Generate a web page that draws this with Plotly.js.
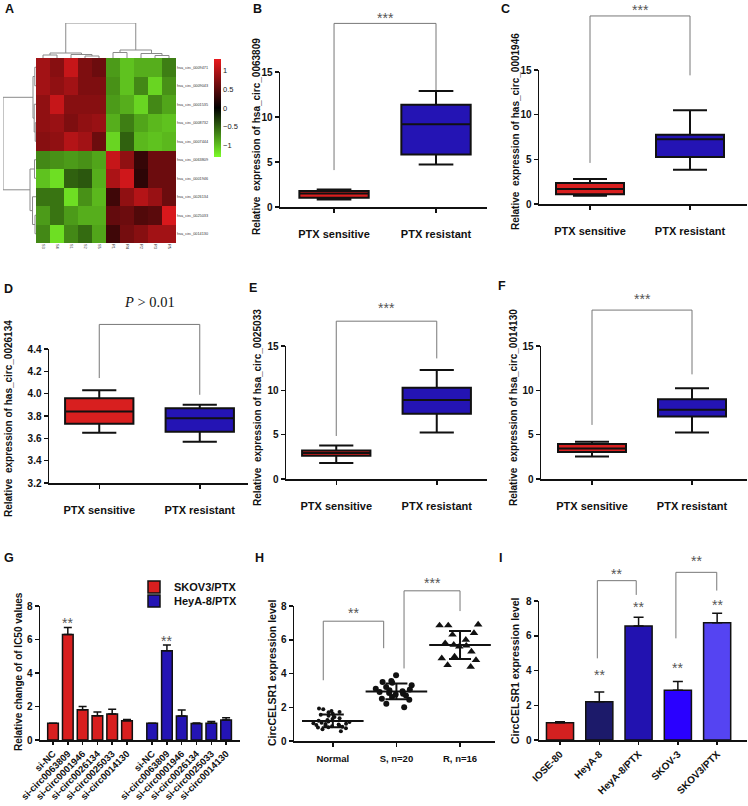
<!DOCTYPE html>
<html><head><meta charset="utf-8">
<script src="https://cdn.plot.ly/plotly-3.0.1.min.js"></script>
<style>html,body{margin:0;padding:0;background:#fff}#plot{width:748px;height:806px}</style>
</head><body><div id="plot"></div>
<script>
// ================= DATA =================
// Panel A heatmap
const heatCols = ['S3','S4','S1','S2','S5','R1','R4','R2','R3','R5'];
const heatRows = ['hsa_circ_0009471','hsa_circ_0009043','hsa_circ_0001535','hsa_circ_0008732','hsa_circ_0007444',
                  'hsa_circ_0063809','hsa_circ_0001946','hsa_circ_0026134','hsa_circ_0025033','hsa_circ_0014130'];
const heatZ = [
  [0.90, 0.75, 1.10, 0.70, 0.60, -0.80, -1.00, -0.90, -0.90, -0.65],
  [0.90, 0.80, 0.90, 0.70, 0.70, -0.75, -1.00, -0.70, -1.10, -0.75],
  [0.80, 1.10, 0.75, 0.75, 0.75, -0.80, -0.90, -1.10, -0.70, -0.85],
  [0.80, 0.85, 0.70, 0.80, 0.85, -0.90, -0.65, -0.85, -0.95, -1.00],
  [0.75, 0.80, 1.00, 0.90, 0.60, -1.10, -0.50, -0.95, -1.00, -0.95],
  [-0.70, -0.75, -0.80, -0.75, -0.85, 1.10, 0.80, 0.30, 0.60, 0.60],
  [-1.00, -1.15, -0.50, -0.45, -0.90, 0.95, 1.15, 0.25, 0.60, 0.60],
  [-0.60, -0.60, -1.15, -0.75, -0.95, 0.35, 0.80, 1.00, 0.85, 0.60],
  [-0.80, -0.60, -0.80, -0.90, -0.90, 0.55, 0.60, 0.45, 0.50, 1.20],
  [-0.70, -1.15, -0.70, -0.55, -0.85, 0.35, 0.65, 0.75, 0.90, 0.90]
];
// linkage: [childA, childB, height]; leaves 0..9, merged nodes numbered 10..
const colLinkage = [[0,1,3],[3,4,2],[2,11,3.5],[10,12,5],[8,9,2.5],[7,14,4.5],[5,6,5.5],[16,15,8],[13,17,35]];
const rowLinkage = [[0,1,1.2],[3,4,0.8],[2,11,1.8],[10,12,3],[5,6,1.5],[8,9,1],[7,15,3.5],[14,16,6],[13,17,33]];

// Panels B-F box plots: [lower whisker, q1, median, q3, upper whisker]
const boxGroups = ['PTX sensitive','PTX resistant'];
const B_sensitive = [0.82, 1.04, 1.49, 1.79, 1.94];
const B_resistant = [4.73, 5.84, 9.19, 11.35, 12.9];
const C_sensitive = [0.93, 1.10, 1.68, 2.35, 2.80];
const C_resistant = [3.82, 5.25, 7.25, 7.75, 10.5];
const D_sensitive = [3.65, 3.73, 3.84, 3.96, 4.03];
const D_resistant = [3.57, 3.66, 3.78, 3.87, 3.90];
const E_sensitive = [1.80, 2.62, 2.92, 3.22, 3.79];
const E_resistant = [5.25, 7.35, 8.92, 10.3, 12.3];
const F_sensitive = [2.55, 3.04, 3.45, 3.94, 4.20];
const F_resistant = [5.25, 7.05, 7.80, 9.00, 10.24];

// Panel G
const G_labels = ['si-NC','si-circ0063809','si-circ0001946','si-circ0026134','si-circ0025033','si-circ0014130'];
const G_series = ['SKOV3/PTX','HeyA-8/PTX'];
const G_skov = [1.0, 6.3, 1.8, 1.45, 1.55, 1.15];
const G_skov_err = [0, 0.42, 0.2, 0.22, 0.28, 0.08];
const G_heya = [1.0, 5.33, 1.43, 0.98, 1.0, 1.19];
const G_heya_err = [0, 0.34, 0.36, 0.04, 0.11, 0.14];

// Panel H
const H_groups = ['Normal','S, n=20','R, n=16'];
const H_normal = [1.92,1.88,1.78,1.72,1.70,1.62,1.55,1.50,1.42,1.35,1.30,1.25,1.20,1.15,1.12,1.08,1.05,1.02,1.00,0.98,0.95,0.92,0.90,0.88,0.85,0.82,0.80,0.75,0.70,0.58];
const H_S = [3.9,3.55,3.5,3.45,3.3,3.2,3.1,3.05,3.0,2.95,2.9,2.85,2.8,2.75,2.7,2.6,2.5,2.45,2.2,2.0];
const H_R = [6.9,6.85,6.85,6.4,6.3,6.0,5.8,5.7,5.65,5.6,5.3,5.0,4.9,4.8,4.5,4.4];

// Panel I
const I_labels = ['IOSE-80','HeyA-8','HeyA-8/PTX','SKOV-3','SKOV3/PTX'];
const I_values = [1.0, 2.2, 6.56, 2.87, 6.75];
const I_err = [0.05, 0.56, 0.5, 0.5, 0.54];

// ================= STYLE / LAYOUT =================
const W = 748, H = 806;
const FONT = 'Liberation Sans, Arial, sans-serif';
const RED = '#d81f1f', BLUE = '#2414b4';
const I_colors = ['#d42020','#1c1a6a','#2212b0','#2a00ff','#5544f2'];
const P = {
  heat:{l:36,t:58,r:176,b:243},
  dTop:{l:36,t:23,r:176,b:58},
  dLeft:{l:3,t:58,r:36,b:243},
  B:{l:280,t:72,r:487,b:207,xr:[-0.53,1.5],yr:[0,15]},
  C:{l:539,t:70,r:747,b:204,xr:[-0.51,1.57],yr:[0,15]},
  D:{l:49,t:349,r:248,b:483,xr:[-0.5,1.48],yr:[3.2,4.4]},
  E:{l:286,t:346,r:487,b:479,xr:[-0.5,1.5],yr:[0,15]},
  F:{l:541,t:346,r:747,b:479,xr:[-0.51,1.55],yr:[0,15]},
  G:{l:40,t:606,r:240,b:740,xr:[-0.88,12.64],yr:[0,8]},
  H:{l:294,t:606,r:495,b:741,xr:[-0.61,2.55],yr:[0,8]},
  I:{l:539,t:601,r:747,b:740,xr:[-0.535,4.76],yr:[0,8]}
};
const dx = p => [p.l/W, p.r/W];
const dy = p => [1-p.b/H, 1-p.t/H];
function toPaper(p, x, y){
  return [(p.l + (x-p.xr[0])/(p.xr[1]-p.xr[0])*(p.r-p.l))/W,
          1 - (p.b - (y-p.yr[0])/(p.yr[1]-p.yr[0])*(p.b-p.t))/H];
}

const traces = [], shapes = [], annotations = [];
const legendStyle = (yc) => ({x:134/W, y:1-yc/H, xanchor:'left', yanchor:'middle', bgcolor:'rgba(0,0,0,0)',
  borderwidth:0, font:{size:11, weight:'bold', color:'#111', family:FONT}, tracegroupgap:0});
const layout = {
  width:W, height:H, margin:{l:0,r:0,t:0,b:0}, paper_bgcolor:'#fff', plot_bgcolor:'rgba(0,0,0,0)',
  font:{family:FONT, color:'#111'}, hovermode:false, showlegend:true,
  legend:legendStyle(587), legend2:legendStyle(601),
  shapes, annotations
};
const axBase = () => ({showline:true, linecolor:'#111', linewidth:1.5, ticks:'outside', ticklen:4, tickwidth:1.5,
  tickcolor:'#111', showgrid:false, zeroline:false, fixedrange:true, tickfont:{size:10, weight:'bold', color:'#111', family:FONT}});
function setAxes(n, p, xo, yo){
  const s = n===1 ? '' : String(n);
  layout['xaxis'+s] = Object.assign({domain:dx(p), anchor:'y'+s, fixedrange:true}, xo);
  layout['yaxis'+s] = Object.assign({domain:dy(p), anchor:'x'+s, fixedrange:true}, yo);
  return ['x'+s, 'y'+s];
}
function letter(txt, x, y){
  annotations.push({text:txt, x:x/W, y:1-y/H, xref:'paper', yref:'paper', xanchor:'left', yanchor:'middle',
    showarrow:false, font:{size:12.5, weight:'bold', color:'#111'}});
}
function yTitle(txt, x, y, size){
  annotations.push({text:txt, x:x/W, y:1-y/H, xref:'paper', yref:'paper', xanchor:'center', yanchor:'middle',
    textangle:-90, showarrow:false, font:{size:size||10, weight:'bold', color:'#111'}});
}
function bracket(p, xL, yL, xR, yR, yTop){
  const a = toPaper(p,xL,yL), b = toPaper(p,xL,yTop), c = toPaper(p,xR,yTop), d = toPaper(p,xR,yR);
  shapes.push({type:'path', xref:'paper', yref:'paper',
    path:`M${a[0]},${a[1]} L${b[0]},${b[1]} L${c[0]},${c[1]} L${d[0]},${d[1]}`,
    line:{color:'#777', width:1}});
}
function stars(p, x, y, txt){
  const q = toPaper(p,x,y);
  annotations.push({text:txt, x:q[0], y:q[1], xref:'paper', yref:'paper', xanchor:'center', yanchor:'middle',
    yshift:-3, showarrow:false, font:{size:14, color:'#555'}});
}

// ---------- Panel A ----------
{
  const [xa, ya] = setAxes(1, P.heat,
    {type:'category', tickangle:90, ticks:'', showline:false, showgrid:false, zeroline:false,
     tickfont:{size:3.8, color:'#333'}},
    {type:'category', side:'right', autorange:'reversed', ticks:'', showline:false, showgrid:false, zeroline:false,
     tickfont:{size:3.8, color:'#333'}});
  traces.push({type:'heatmap', x:heatCols, y:heatRows, z:heatZ, xaxis:xa, yaxis:ya, zmin:-1.3, zmax:1.3,
    colorscale:[[0,'#7cfc28'],[0.5,'#000000'],[1,'#ea1a1e']], showscale:true,
    colorbar:{x:214/W, xanchor:'left', y:1-59/H, yanchor:'top', len:98/H, lenmode:'fraction',
      thickness:7, thicknessmode:'pixels', outlinewidth:0, xpad:0, ypad:0, ticks:'', ticklabelposition:'outside',
      tickvals:[-1,-0.5,0,0.5,1], tickfont:{size:7.5, color:'#222'}}});

  function dendro(link, n){
    const pos=[], ht=[], a=[], b=[];
    for(let i=0;i<n;i++){pos.push(i);ht.push(0);}
    link.forEach(([i,j,h])=>{
      a.push(pos[i],pos[i],pos[j],pos[j],null);
      b.push(ht[i],h,h,ht[j],null);
      pos.push((pos[i]+pos[j])/2); ht.push(h);
    });
    return {pos:a, ht:b};
  }
  const dc = dendro(colLinkage, heatCols.length);
  const [x2, y2] = setAxes(2, P.dTop, {visible:false, range:[-0.5,9.5]}, {visible:false, range:[0,35]});
  traces.push({type:'scatter', mode:'lines', x:dc.pos, y:dc.ht, xaxis:x2, yaxis:y2, showlegend:false,
    line:{color:'#8a8a8a', width:1}, cliponaxis:false});
  const dr = dendro(rowLinkage, heatRows.length);
  const [x3, y3] = setAxes(3, P.dLeft, {visible:false, range:[33,0]}, {visible:false, range:[9.5,-0.5]});
  traces.push({type:'scatter', mode:'lines', x:dr.ht, y:dr.pos, xaxis:x3, yaxis:y3, showlegend:false,
    line:{color:'#8a8a8a', width:1}, cliponaxis:false});
  letter('A', 3, 9);
}

// ---------- Panels B-F ----------
function boxPanel(n, p, sens, res, title, yt, ytick){
  const xo = Object.assign(axBase(), {type:'category', range:p.xr, ticklabelstandoff:12,
    tickfont:{size:11, weight:'bold', color:'#111', family:FONT}});
  const yo = Object.assign(axBase(), {range:p.yr}, ytick);
  const [xa, ya] = setAxes(n, p, xo, yo);
  [[sens, RED, boxGroups[0]], [res, BLUE, boxGroups[1]]].forEach(([s, col, cat])=>{
    traces.push({type:'box', x:[cat], lowerfence:[s[0]], q1:[s[1]], median:[s[2]], q3:[s[3]], upperfence:[s[4]],
      xaxis:xa, yaxis:ya, fillcolor:col, line:{color:'#111', width:2}, width:0.68, whiskerwidth:0.5,
      boxpoints:false, showlegend:false});
  });
  yTitle(title, yt[0], yt[1], 10);
}
const tick15 = {tickvals:[0,5,10,15]};
boxPanel(4, P.B, B_sensitive, B_resistant, 'Relative\u00a0 expression of hsa_circ_0063809', [256,136], tick15);
bracket(P.B, 0, 4.1, 1, 13.0, 20.4); stars(P.B, 0.5, 21.3, '***'); letter('B', 251, 9);
boxPanel(5, P.C, C_sensitive, C_resistant, 'Relative\u00a0 expression of has_circ_0001946', [515,132], tick15);
bracket(P.C, 0, 4.6, 1, 14.4, 21.05); stars(P.C, 0.5, 22.0, '***'); letter('C', 499, 9);
boxPanel(6, P.D, D_sensitive, D_resistant, 'Relative\u00a0 expression of has_circ_0026134', [8,419],
  {tickvals:[3.2,3.4,3.6,3.8,4.0,4.2,4.4], tickformat:'.1f'});
bracket(P.D, 0, 4.14, 1, 3.99, 4.62);
{ const q = toPaper(P.D, 0.5, 4.82);
  annotations.push({text:'<i>P</i> > 0.01', x:q[0], y:q[1], xref:'paper', yref:'paper', showarrow:false,
    xanchor:'center', yanchor:'middle', font:{size:14.5, family:'Liberation Serif, Times New Roman, serif', color:'#111'}}); }
letter('D', 2, 289);
boxPanel(7, P.E, E_sensitive, E_resistant, 'Relative\u00a0 expression of hsa_circ_0025033', [257,408], tick15);
bracket(P.E, 0, 4.85, 1, 13.6, 17.8); stars(P.E, 0.5, 19.6, '***'); letter('E', 247, 288);
boxPanel(8, P.F, F_sensitive, F_resistant, 'Relative\u00a0 expression of hsa_circ_0014130', [513,408], tick15);
bracket(P.F, 0, 6.1, 1, 11.8, 19.05); stars(P.F, 0.5, 20.6, '***'); letter('F', 496, 286);

// ---------- Panel G ----------
{
  const redX = G_labels.map((_,i)=>i);
  const blueX = G_labels.map((_,i)=>i+6.7);
  const xo = Object.assign(axBase(), {range:P.G.xr, tickvals:redX.concat(blueX), ticktext:G_labels.concat(G_labels),
    tickangle:-45, ticklen:3, tickfont:{size:9.5, weight:'bold', color:'#111', family:FONT}});
  const yo = Object.assign(axBase(), {range:P.G.yr, tickvals:[0,2,4,6,8]});
  const [xa, ya] = setAxes(9, P.G, xo, yo);
  [[redX, G_skov, G_skov_err, RED, G_series[0], 'legend'], [blueX, G_heya, G_heya_err, BLUE, G_series[1], 'legend2']]
  .forEach(([xs, v, e, col, nm, lg])=>{
    traces.push({type:'bar', name:nm, legend:lg, x:xs, y:v, xaxis:xa, yaxis:ya, width:0.72,
      marker:{color:col, line:{color:'#111', width:1.5}},
      error_y:{type:'data', symmetric:false, array:e, arrayminus:e.map(()=>0), color:'#111', thickness:1.5, width:4}});
  });
  stars(P.G, 1, 7.16, '**'); stars(P.G, 7.7, 6.07, '**');
  yTitle('Relative change of of IC50 values', 18, 672, 10);
  letter('G', 2, 558);
}

// ---------- Panel H ----------
{
  const xo = Object.assign(axBase(), {type:'category', range:P.H.xr, ticklabelstandoff:4,
    tickfont:{size:9.5, weight:'bold', color:'#111', family:FONT}});
  const yo = Object.assign(axBase(), {range:P.H.yr, tickvals:[0,2,4,6,8]});
  const [xa, ya] = setAxes(10, P.H, xo, yo);
  const groups = [[H_groups[0], H_normal, 'circle', 4], [H_groups[1], H_S, 'circle', 6], [H_groups[2], H_R, 'triangle-up', 7.5]];
  groups.forEach(([cat, vals, sym, sz])=>{
    traces.push({type:'box', x:vals.map(()=>cat), y:vals, xaxis:xa, yaxis:ya, boxpoints:'all', jitter:1, pointpos:0,
      width:0.72, line:{width:0, color:'rgba(0,0,0,0)'}, fillcolor:'rgba(0,0,0,0)', showlegend:false,
      marker:{color:'#111', size:sz, symbol:sym}});
  });
  groups.forEach(([cat, vals])=>{
    const m = vals.reduce((a,b)=>a+b,0)/vals.length;
    const sd = Math.sqrt(vals.reduce((a,b)=>a+(b-m)*(b-m),0)/(vals.length-1));
    traces.push({type:'scatter', mode:'markers', x:[cat], y:[m], xaxis:xa, yaxis:ya, showlegend:false,
      marker:{symbol:'line-ew', size:44, color:'#111', line:{width:2, color:'#111'}},
      error_y:{type:'data', array:[sd], color:'#111', thickness:2, width:11}});
  });
  bracket(P.H, -0.15, 3.6, 0.8, 5.5, 7.1); stars(P.H, 0.33, 7.76, '**');
  bracket(P.H, 1.12, 4.3, 2.0, 7.7, 8.9); stars(P.H, 1.56, 9.54, '***');
  yTitle('CircCELSR1 expression level', 272, 673, 10.5);
  letter('H', 253, 558);
}

// ---------- Panel I ----------
{
  const xo = Object.assign(axBase(), {type:'category', range:P.I.xr, tickangle:-45, ticklen:3,
    tickfont:{size:10, weight:'bold', color:'#111', family:FONT}});
  const yo = Object.assign(axBase(), {range:P.I.yr, tickvals:[0,2,4,6,8]});
  const [xa, ya] = setAxes(11, P.I, xo, yo);
  traces.push({type:'bar', x:I_labels, y:I_values, xaxis:xa, yaxis:ya, width:0.69, showlegend:false,
    marker:{color:I_colors, line:{color:'#111', width:1.5}},
    error_y:{type:'data', symmetric:false, array:I_err, arrayminus:I_err.map(()=>0), color:'#111', thickness:1.5, width:5}});
  stars(P.I, 1, 3.93, '**'); stars(P.I, 2, 7.83, '**'); stars(P.I, 3, 4.32, '**'); stars(P.I, 4, 7.97, '**');
  bracket(P.I, 0.95, 4.7, 1.94, 8.35, 9.17); stars(P.I, 1.45, 9.75, '**');
  bracket(P.I, 2.95, 5.85, 3.99, 8.6, 9.65); stars(P.I, 3.47, 10.5, '**');
  yTitle('CircCELSR1 expression level', 515, 671, 10.5);
  letter('I', 497, 558);
}

Plotly.newPlot('plot', traces, layout, {staticPlot:true, displayModeBar:false});
</script>
</body></html>
